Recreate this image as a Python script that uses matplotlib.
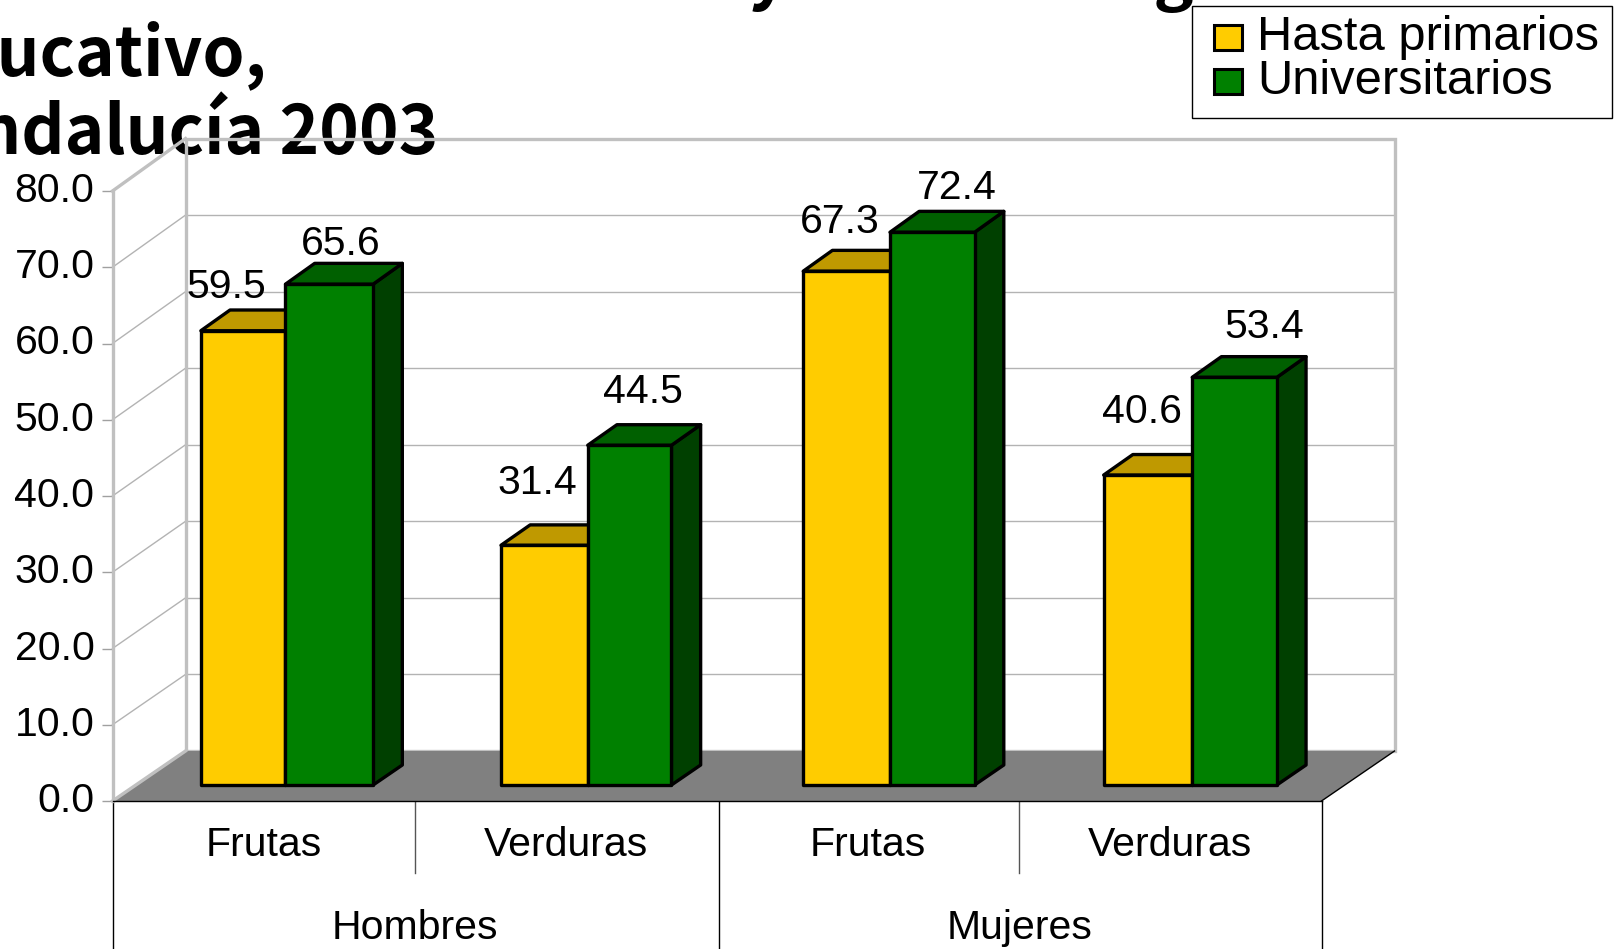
import matplotlib
matplotlib.use("Agg")
import matplotlib.pyplot as pyplot
from matplotlib.patches import Polygon, Rectangle

categories = ['Frutas', 'Verduras', 'Frutas', 'Verduras']
groups = ['Hombres', 'Mujeres']
hasta_primarios = [59.5, 31.4, 67.3, 40.6]
universitarios = [65.6, 44.5, 72.4, 53.4]
yticks = [0, 10, 20, 30, 40, 50, 60, 70, 80]
legend_labels = ['Hasta primarios', 'Universitarios']
title_lines = ['Consumo diario de fruta y verdura según nivel', 'educativo,', 'Andalucía 2003']

W, H = 1616, 949
pyplot.rcParams['font.family'] = ['Liberation Sans', 'DejaVu Sans']
LABEL_SIZE = 29.5

AX_H = 610
UNIT = AX_H / 80

fig = pyplot.figure(figsize=(W / 100, H / 100), dpi=100, facecolor='white')
ax = fig.add_axes([112.5 / W, 1 - 801 / H, 1209 / W, AX_H / H])
ax.patch.set_visible(False)
ax.set_xlim(0, 4)
ax.set_ylim(0, 80)

# depth of the box, in axis units
DX = 73 / 302.25
DY = 50 / UNIT
BACK_STRETCH = 0.004

def proj(x, y, d):
	return (x + d * DX, y + d * DY + d * y * BACK_STRETCH)

# title goes under the chart, the wall lines cross it
title_x = [-69, -86, -65]
title_base = [-3, 75, 154]
for line, tx, base in zip(title_lines, title_x, title_base):
	fig.text(tx / W, 1 - base / H, line, family=['Noto Sans CJK SC', 'DejaVu Sans'], weight='bold', fontsize=48.5,
		color='black', va='baseline', ha='left', zorder=-1)

# gridlines, back wall and left wall
for v in yticks[1:-1]:
	ax.plot([proj(0, v, 0)[0], proj(0, v, 1)[0]], [proj(0, v, 0)[1], proj(0, v, 1)[1]], color='#b3b3b3', lw=1, clip_on=False, zorder=1)
	ax.plot([proj(0, v, 1)[0], proj(4, v, 1)[0]], [proj(0, v, 1)[1], proj(4, v, 1)[1]], color='#b3b3b3', lw=1, clip_on=False, zorder=1)

wall = [proj(0, 0, 1), proj(0, 80, 1), proj(4, 80, 1), proj(4, 0, 1), proj(0, 0, 1)]
ax.plot([p[0] for p in wall], [p[1] for p in wall], color='#c0c0c0', lw=2.4, clip_on=False, zorder=2, solid_joinstyle='miter')
ax.plot([proj(0, 80, 0)[0], proj(0, 80, 1)[0]], [proj(0, 80, 0)[1], proj(0, 80, 1)[1]], color='#c0c0c0', lw=2.4, clip_on=False, zorder=2)

# floor
ax.add_patch(Polygon([proj(0, 0, 0), proj(4, 0, 0), proj(4, 0, 1), proj(0, 0, 1)], closed=True, facecolor='#808080', edgecolor='none', clip_on=False, zorder=3))
ax.plot([proj(0, 0, 0)[0], proj(0, 0, 1)[0]], [proj(0, 0, 0)[1], proj(0, 0, 1)[1]], color='#c0c0c0', lw=2.4, clip_on=False, zorder=3)
ax.plot([proj(4, 0, 0)[0], proj(4, 0, 1)[0]], [proj(4, 0, 0)[1], proj(4, 0, 1)[1]], color='black', lw=1, clip_on=False, zorder=3)

# bars
yellow_w = [0.28, 0.287, 0.287, 0.293]
green_w = [0.29, 0.277, 0.28, 0.28]
D0, D1 = 0.32, 0.72
EDGE = dict(edgecolor='black', lw=2.4, clip_on=False, joinstyle='round')

def bar3d(x, w, v, front, top, side, z):
	ax.add_patch(Polygon([proj(x + w, 0, D0), proj(x + w, 0, D1), proj(x + w, v, D1), proj(x + w, v, D0)], facecolor=side, zorder=z, **EDGE))
	ax.add_patch(Polygon([proj(x, v, D0), proj(x, v, D1), proj(x + w, v, D1), proj(x + w, v, D0)], facecolor=top, zorder=z, **EDGE))
	ax.add_patch(Polygon([proj(x, 0, D0), proj(x, v, D0), proj(x + w, v, D0), proj(x + w, 0, D0)], facecolor=front, zorder=z + 0.1, **EDGE))

yellow_shift = [(-17, 44), (-7, 62), (-7, 49), (-6, 63)]
green_shift = [(11, 40), (13, 53), (25, 44), (30, 50)]

for i in range(len(categories)):
	c = i + 0.495
	bar3d(c - yellow_w[i], yellow_w[i], hasta_primarios[i], '#ffcc00', '#bf9900', '#bf9900', 4 + i)
	bar3d(c, green_w[i], universitarios[i], '#008000', '#006000', '#004000', 4.5 + i)
	for x, v, s in [(c - yellow_w[i] / 2, hasta_primarios[i], yellow_shift[i]), (c + green_w[i] / 2, universitarios[i], green_shift[i])]:
		px, py = proj(x, v, D0)
		ax.annotate(f"{v:.1f}", (px, py), xytext=s, textcoords='offset pixels', ha='center', va='center',
			fontsize=LABEL_SIZE, color='black', annotation_clip=False, zorder=20)

# axes
for s in ['top', 'right']:
	ax.spines[s].set_visible(False)
ax.spines['left'].set_color('#c0c0c0')
ax.spines['left'].set_linewidth(2.4)
ax.spines['bottom'].set_color('black')
ax.spines['bottom'].set_linewidth(1)
ax.spines['bottom'].set_zorder(3.5)
ax.set_xticks([])
ax.set_yticks(yticks)
ax.set_yticklabels([f"{v:.1f}" for v in yticks], fontsize=LABEL_SIZE, va='center')
ax.tick_params(axis='y', length=8, width=1, color='#a0a0a0', pad=5)

# two level category axis
SEP_LOW = -72 / UNIT
SEP_END = -150 / UNIT
for x in [1, 3]:
	ax.plot([x, x], [0, SEP_LOW], color='#555555', lw=1, clip_on=False)
for x in [0, 2.005, 4]:
	ax.plot([x, x], [0, SEP_END], color='black', lw=1, clip_on=False)
for i, name in enumerate(categories):
	ax.text(i + 0.5, -44 / UNIT, name, ha='center', va='center', fontsize=LABEL_SIZE, clip_on=False)
for i, name in enumerate(groups):
	ax.text(2 * i + 1, -127 / UNIT, name, ha='center', va='center', fontsize=LABEL_SIZE, clip_on=False)

# legend box
def frect(x0, y0, x1, y1, **kw):
	fig.patches.append(Rectangle((x0 / W, 1 - y1 / H), (x1 - x0) / W, (y1 - y0) / H, transform=fig.transFigure, figure=fig, **kw))

frect(1191.5, 6, 1611.5, 117.5, facecolor='white', edgecolor='black', lw=1, zorder=30)
frect(1214, 25, 1242, 50, facecolor='#ffcc00', edgecolor='black', lw=2.2, zorder=31)
frect(1214, 69, 1242, 94, facecolor='#008000', edgecolor='black', lw=2.2, zorder=31)
for label, base in zip(legend_labels, [50, 94]):
	fig.text(1257 / W, 1 - base / H, label, fontsize=35.2, va='baseline', ha='left', color='black', zorder=32)

fig.savefig("out.png", dpi=100)
